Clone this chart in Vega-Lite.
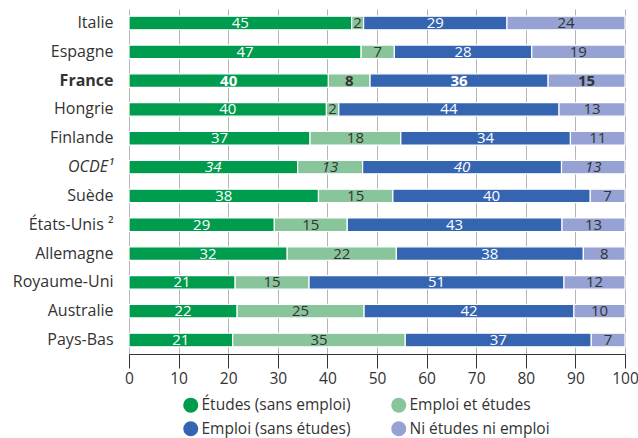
{
  "$schema": "https://vega.github.io/schema/vega-lite/v6.json",
  "width": 496,
  "height": 345,
  "autosize": {"type": "none"},
  "padding": {"left": 129, "top": 9, "right": 13, "bottom": 84},
  "background": "white",
  "config": {"view": {"stroke": null}, "font": "Open Sans"},
  "data": {"values": [
    {"pays": "Italie", "categorie": "Études (sans emploi)", "ordre": 1, "valeur": 44.9, "etiquette": 45},
    {"pays": "Italie", "categorie": "Emploi et études", "ordre": 2, "valeur": 2.4, "etiquette": 2},
    {"pays": "Italie", "categorie": "Emploi (sans études)", "ordre": 3, "valeur": 28.9, "etiquette": 29},
    {"pays": "Italie", "categorie": "Ni études ni emploi", "ordre": 4, "valeur": 23.8, "etiquette": 24},
    {"pays": "Espagne", "categorie": "Études (sans emploi)", "ordre": 1, "valeur": 46.8, "etiquette": 47},
    {"pays": "Espagne", "categorie": "Emploi et études", "ordre": 2, "valeur": 6.7, "etiquette": 7},
    {"pays": "Espagne", "categorie": "Emploi (sans études)", "ordre": 3, "valeur": 27.7, "etiquette": 28},
    {"pays": "Espagne", "categorie": "Ni études ni emploi", "ordre": 4, "valeur": 18.8, "etiquette": 19},
    {"pays": "France", "categorie": "Études (sans emploi)", "ordre": 1, "valeur": 40.2, "etiquette": 40},
    {"pays": "France", "categorie": "Emploi et études", "ordre": 2, "valeur": 8.4, "etiquette": 8},
    {"pays": "France", "categorie": "Emploi (sans études)", "ordre": 3, "valeur": 35.9, "etiquette": 36},
    {"pays": "France", "categorie": "Ni études ni emploi", "ordre": 4, "valeur": 15.5, "etiquette": 15},
    {"pays": "Hongrie", "categorie": "Études (sans emploi)", "ordre": 1, "valeur": 39.8, "etiquette": 40},
    {"pays": "Hongrie", "categorie": "Emploi et études", "ordre": 2, "valeur": 2.5, "etiquette": 2},
    {"pays": "Hongrie", "categorie": "Emploi (sans études)", "ordre": 3, "valeur": 44.4, "etiquette": 44},
    {"pays": "Hongrie", "categorie": "Ni études ni emploi", "ordre": 4, "valeur": 13.3, "etiquette": 13},
    {"pays": "Finlande", "categorie": "Études (sans emploi)", "ordre": 1, "valeur": 36.5, "etiquette": 37},
    {"pays": "Finlande", "categorie": "Emploi et études", "ordre": 2, "valeur": 18.3, "etiquette": 18},
    {"pays": "Finlande", "categorie": "Emploi (sans études)", "ordre": 3, "valeur": 34.2, "etiquette": 34},
    {"pays": "Finlande", "categorie": "Ni études ni emploi", "ordre": 4, "valeur": 11.0, "etiquette": 11},
    {"pays": "OCDE¹", "categorie": "Études (sans emploi)", "ordre": 1, "valeur": 34.0, "etiquette": 34},
    {"pays": "OCDE¹", "categorie": "Emploi et études", "ordre": 2, "valeur": 13.1, "etiquette": 13},
    {"pays": "OCDE¹", "categorie": "Emploi (sans études)", "ordre": 3, "valeur": 40.1, "etiquette": 40},
    {"pays": "OCDE¹", "categorie": "Ni études ni emploi", "ordre": 4, "valeur": 12.8, "etiquette": 13},
    {"pays": "Suède", "categorie": "Études (sans emploi)", "ordre": 1, "valeur": 38.2, "etiquette": 38},
    {"pays": "Suède", "categorie": "Emploi et études", "ordre": 2, "valeur": 15.0, "etiquette": 15},
    {"pays": "Suède", "categorie": "Emploi (sans études)", "ordre": 3, "valeur": 39.8, "etiquette": 40},
    {"pays": "Suède", "categorie": "Ni études ni emploi", "ordre": 4, "valeur": 7.0, "etiquette": 7},
    {"pays": "États-Unis ²", "categorie": "Études (sans emploi)", "ordre": 1, "valeur": 29.3, "etiquette": 29},
    {"pays": "États-Unis ²", "categorie": "Emploi et études", "ordre": 2, "valeur": 14.7, "etiquette": 15},
    {"pays": "États-Unis ²", "categorie": "Emploi (sans études)", "ordre": 3, "valeur": 43.3, "etiquette": 43},
    {"pays": "États-Unis ²", "categorie": "Ni études ni emploi", "ordre": 4, "valeur": 12.7, "etiquette": 13},
    {"pays": "Allemagne", "categorie": "Études (sans emploi)", "ordre": 1, "valeur": 31.9, "etiquette": 32},
    {"pays": "Allemagne", "categorie": "Emploi et études", "ordre": 2, "valeur": 22.0, "etiquette": 22},
    {"pays": "Allemagne", "categorie": "Emploi (sans études)", "ordre": 3, "valeur": 37.7, "etiquette": 38},
    {"pays": "Allemagne", "categorie": "Ni études ni emploi", "ordre": 4, "valeur": 8.4, "etiquette": 8},
    {"pays": "Royaume-Uni", "categorie": "Études (sans emploi)", "ordre": 1, "valeur": 21.4, "etiquette": 21},
    {"pays": "Royaume-Uni", "categorie": "Emploi et études", "ordre": 2, "valeur": 14.9, "etiquette": 15},
    {"pays": "Royaume-Uni", "categorie": "Emploi (sans études)", "ordre": 3, "valeur": 51.4, "etiquette": 51},
    {"pays": "Royaume-Uni", "categorie": "Ni études ni emploi", "ordre": 4, "valeur": 12.3, "etiquette": 12},
    {"pays": "Australie", "categorie": "Études (sans emploi)", "ordre": 1, "valeur": 21.8, "etiquette": 22},
    {"pays": "Australie", "categorie": "Emploi et études", "ordre": 2, "valeur": 25.6, "etiquette": 25},
    {"pays": "Australie", "categorie": "Emploi (sans études)", "ordre": 3, "valeur": 42.3, "etiquette": 42},
    {"pays": "Australie", "categorie": "Ni études ni emploi", "ordre": 4, "valeur": 10.3, "etiquette": 10},
    {"pays": "Pays-Bas", "categorie": "Études (sans emploi)", "ordre": 1, "valeur": 20.9, "etiquette": 21},
    {"pays": "Pays-Bas", "categorie": "Emploi et études", "ordre": 2, "valeur": 34.8, "etiquette": 35},
    {"pays": "Pays-Bas", "categorie": "Emploi (sans études)", "ordre": 3, "valeur": 37.5, "etiquette": 37},
    {"pays": "Pays-Bas", "categorie": "Ni études ni emploi", "ordre": 4, "valeur": 6.8, "etiquette": 7}
  ]},
  "encoding": {
    "y": {
      "field": "pays", "type": "nominal", "sort": null,
      "scale": {"paddingInner": 0.53, "paddingOuter": 0.25},
      "axis": {
        "title": null, "domain": false, "ticks": false, "grid": false,
        "labelFontSize": 16, "labelColor": "#333333", "labelPadding": 16,
        "labelFontWeight": {"condition": {"test": "datum.value === 'France'", "value": "bold"}, "value": "normal"},
        "labelFontStyle": {"condition": {"test": "datum.value === 'OCDE¹'", "value": "italic"}, "value": "normal"}
      }
    },
    "x": {
      "field": "valeur", "type": "quantitative", "stack": "zero",
      "scale": {"domain": [0, 100], "nice": false},
      "axis": {
        "title": null, "values": [0, 10, 20, 30, 40, 50, 60, 70, 80, 90, 100],
        "grid": true, "gridColor": "#b5b5b5", "gridWidth": 1,
        "domainColor": "#333333", "tickColor": "#333333", "tickSize": 14,
        "labelFontSize": 15.5, "labelColor": "#333333", "labelPadding": 3,
        "labelFlush": false, "labelOverlap": false
      }
    },
    "order": {"field": "ordre", "type": "quantitative"}
  },
  "layer": [
    {
      "mark": {"type": "bar", "stroke": "white", "strokeWidth": 1.2},
      "encoding": {
        "color": {
          "field": "categorie", "type": "nominal",
          "scale": {
            "domain": ["Études (sans emploi)", "Emploi et études", "Emploi (sans études)", "Ni études ni emploi"],
            "range": ["#009c4e", "#89c59b", "#3565b1", "#95a2d3"]
          },
          "legend": {
            "title": null, "orient": "none", "legendX": 54, "legendY": 388,
            "direction": "horizontal", "columns": 2,
            "symbolType": "circle", "symbolSize": 225, "symbolStrokeWidth": 0,
            "labelFontSize": 15.5, "labelColor": "#333333", "labelOffset": 3,
            "columnPadding": 40, "rowPadding": 7, "padding": 0
          }
        }
      }
    },
    {
      "mark": {
        "type": "text", "fontSize": 15,
        "fontWeight": {"expr": "datum.pays === 'France' ? 'bold' : 'normal'"},
        "fontStyle": {"expr": "datum.pays === 'OCDE¹' ? 'italic' : 'normal'"}
      },
      "encoding": {
        "x": {"field": "valeur", "type": "quantitative", "stack": "zero", "bandPosition": 0.5},
        "detail": {"field": "categorie", "type": "nominal"},
        "text": {"field": "etiquette", "type": "quantitative"},
        "color": {"condition": {"test": "datum.ordre === 1 || datum.ordre === 3", "value": "white"}, "value": "#333333"}
      }
    }
  ]
}
